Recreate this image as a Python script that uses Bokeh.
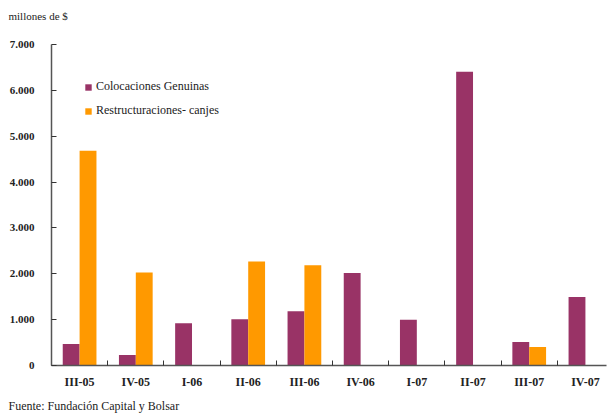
import numpy as np
from bokeh.plotting import figure
from bokeh.models import FixedTicker, Legend, LegendItem, Title, ColumnDataSource
from bokeh.embed import file_html
from bokeh.resources import INLINE

categories = ["III-05", "IV-05", "I-06", "II-06", "III-06", "IV-06", "I-07", "II-07", "III-07", "IV-07"]
genuinas = [467, 228, 924, 1010, 1185, 2015, 995, 6405, 515, 1495]
canjes = [4685, 2030, 0, 2270, 2185, 0, 0, 0, 405, 0]
y_ticks = [0, 1000, 2000, 3000, 4000, 5000, 6000, 7000]

FONT = "Liberation Serif"
PURPLE = "#993366"
ORANGE = "#FF9900"

idx = np.arange(len(categories))
centers = idx + 0.5
bw = 0.3

src = ColumnDataSource(dict(
    xg=centers - bw / 2, xc=centers + bw / 2,
    g=genuinas, c=canjes,
))

p = figure(width=608, height=417, output_backend="svg", toolbar_location=None,
           x_range=(0, 9.875), y_range=(0, 7000),
           min_border_left=51, min_border_right=2, min_border_top=44, min_border_bottom=51)
p.outline_line_color = None
p.grid.grid_line_color = None
p.background_fill_color = "white"

rg = p.vbar(x="xg", top="g", width=bw, source=src, fill_color=PURPLE, line_color=None)
rc = p.vbar(x="xc", top="c", width=bw, source=src, fill_color=ORANGE, line_color=None)

# x axis
xa = p.xaxis[0]
xa.ticker = FixedTicker(ticks=list(centers), minor_ticks=list(np.arange(0, len(categories) + 1)))
xa.major_label_overrides = {float(c): lab for c, lab in zip(centers, categories)}
xa.major_tick_line_color = None
xa.major_tick_in = 0
xa.major_tick_out = 0
xa.minor_tick_in = 5
xa.minor_tick_out = 0
xa.minor_tick_line_color = "#333333"
xa.axis_line_color = "#555555"
xa.axis_line_width = 1.5
xa.major_label_text_font = FONT
xa.major_label_text_font_style = "bold"
xa.major_label_text_font_size = "12px"
xa.major_label_text_color = "#222222"
xa.major_label_standoff = 9

# y axis
ya = p.yaxis[0]
ya.ticker = FixedTicker(ticks=y_ticks, minor_ticks=[])
ya.major_label_overrides = {t: f"{t:,}".replace(",", ".") for t in y_ticks}
ya.major_tick_in = 5
ya.major_tick_out = 0
ya.major_tick_line_color = "#333333"
ya.axis_line_color = "#555555"
ya.axis_line_width = 1.5
ya.major_label_text_font = FONT
ya.major_label_text_font_style = "bold"
ya.major_label_text_font_size = "11px"
ya.major_label_text_color = "#222222"
ya.major_label_standoff = 17

legend = Legend(items=[LegendItem(label="Colocaciones Genuinas", renderers=[rg]),
                       LegendItem(label="Restructuraciones- canjes", renderers=[rc])],
                location=(33, 247), orientation="vertical")
legend.border_line_color = None
legend.background_fill_alpha = 0
legend.padding = 0
legend.margin = 0
legend.glyph_width = 8
legend.glyph_height = 8
legend.label_height = 14
legend.spacing = 9
legend.label_standoff = 4
legend.label_text_font = FONT
legend.label_text_font_size = "12px"
legend.label_text_color = "#222222"
p.add_layout(legend, "center")

# spacer between frame and the unit title
spacer = Title(text="\u00a0", text_font_size="1px", standoff=20, text_color="white")
p.add_layout(spacer, "above")
t_top = Title(text="millones de $", align="left", text_font=FONT, text_font_size="11px",
              text_font_style="normal", text_color="#222222", offset=-43, standoff=0)
p.add_layout(t_top, "above")

t_src = Title(text="Fuente: Fundación Capital y Bolsar", align="left", text_font=FONT,
              text_font_size="12px", text_font_style="normal", text_color="#222222",
              offset=-43, standoff=10)
p.add_layout(t_src, "below")

open("out.html", "w").write(file_html(p, INLINE))
